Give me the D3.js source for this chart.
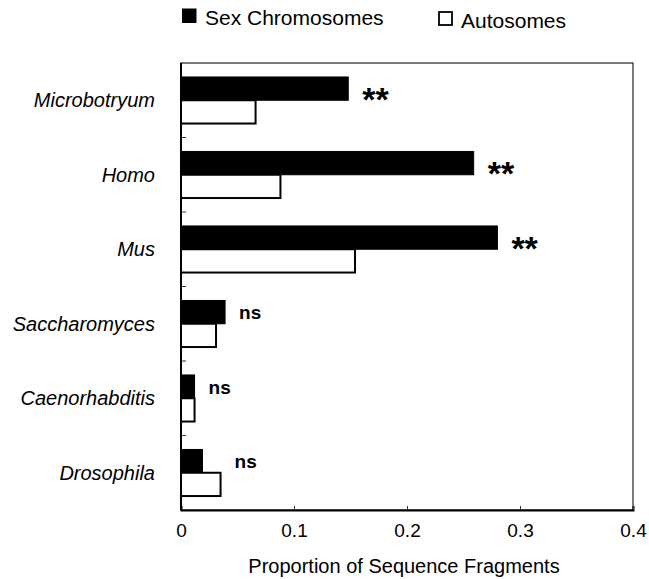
<!DOCTYPE html>
<html><head><meta charset="utf-8">
<script src="https://cdn.jsdelivr.net/npm/d3@7"></script>
<style>body{margin:0;background:#fff}svg{display:block}text{font-family:"Liberation Sans",Arial,sans-serif;fill:#000}</style>
</head><body><svg id="c" width="649" height="579"></svg>
<script>
const categories = ["Microbotryum","Homo","Mus","Saccharomyces","Caenorhabditis","Drosophila"];
const sexValues = [0.148,0.259,0.280,0.039,0.012,0.019];
const autoValues = [0.066,0.088,0.154,0.031,0.012,0.035];
const significance = ["**","**","**","ns","ns","ns"];
const seriesNames = ["Sex Chromosomes","Autosomes"];
const xTicks = [0,0.1,0.2,0.3,0.4];
const xTitle = "Proportion of Sequence Fragments";

const svg = d3.select("#c");
const L=181,R=633,T=63,B=510;
const x = d3.scaleLinear().domain([0,0.4]).range([L,R]);
const y0 = d3.scaleBand().domain(categories).range([T,B]).padding(0);
const y1 = d3.scaleBand().domain(["sex","auto"]).range([0,y0.bandwidth()]).paddingInner(0).paddingOuter(0.6);

// frame
svg.append("rect").attr("x",L).attr("y",T).attr("width",R-L).attr("height",B-T)
  .attr("fill","none").attr("stroke","#333").attr("stroke-width",1.3);

// x axis ticks (inward) and labels
const xAxis = d3.axisBottom(x).tickValues(xTicks).tickFormat(d=>d===0?"0":d3.format(".1f")(d)).tickSize(-4).tickPadding(14);
const gx = svg.append("g").attr("transform",`translate(0,${B})`).call(xAxis);
gx.select(".domain").attr("stroke","#000").attr("stroke-width",2);
gx.selectAll(".tick line").attr("stroke","#333");
gx.selectAll("text").attr("font-size",19).attr("font-family","Liberation Sans, Arial, sans-serif").attr("fill","#000");

// y axis
const yTickPos = categories.map((c,i)=>i===0?null:y0(c)).filter(v=>v!==null);
svg.selectAll(".ytick").data(yTickPos).enter().append("line")
  .attr("x1",L).attr("x2",L+5).attr("y1",d=>d).attr("y2",d=>d).attr("stroke","#333").attr("stroke-width",1);
svg.append("line").attr("x1",L).attr("x2",L).attr("y1",T).attr("y2",B).attr("stroke","#000").attr("stroke-width",2);

svg.selectAll(".cat").data(categories).enter().append("text")
  .attr("x",155).attr("y",d=>y0(d)+y0.bandwidth()/2).attr("dy","0.35em")
  .attr("text-anchor","end").attr("font-style","italic").attr("font-size",20).text(d=>d);

// bars
const g = svg.append("g");
categories.forEach((c,i)=>{
  g.append("rect").attr("x",x(0)).attr("y",y0(c)+y1("sex"))
    .attr("width",x(sexValues[i])-x(0)).attr("height",y1.bandwidth())
    .attr("fill","#000").attr("stroke","#000").attr("stroke-width",1);
  g.append("rect").attr("x",x(0)).attr("y",y0(c)+y1("auto"))
    .attr("width",x(autoValues[i])-x(0)).attr("height",y1.bandwidth())
    .attr("fill","#fff").attr("stroke","#000").attr("stroke-width",2);
  const s = significance[i];
  const mx = x(Math.max(sexValues[i],autoValues[i]))+14;
  const cy = y0(c)+y1("sex")+y1.bandwidth()/2;
  if(s==="**"){
    svg.append("text").attr("x",mx).attr("y",cy+22)
      .attr("font-size",34).attr("font-weight","bold").text(s);
  } else {
    svg.append("text").attr("x",mx).attr("y",cy+7)
      .attr("font-size",19).attr("font-weight","bold").text(s);
  }
});

// x title
svg.append("text").attr("x",(L+R)/2-3).attr("y",573).attr("text-anchor","middle")
  .attr("font-size",20).text(xTitle);

// legend
svg.append("rect").attr("x",182).attr("y",8.5).attr("width",14.5).attr("height",14.5).attr("fill","#000");
svg.append("text").attr("x",205).attr("y",25).attr("font-size",21).text(seriesNames[0]);
svg.append("rect").attr("x",439).attr("y",12).attr("width",13).attr("height",13).attr("fill","#fff").attr("stroke","#000").attr("stroke-width",1.8);
svg.append("text").attr("x",461).attr("y",27.5).attr("font-size",21).text(seriesNames[1]);
</script></body></html>
